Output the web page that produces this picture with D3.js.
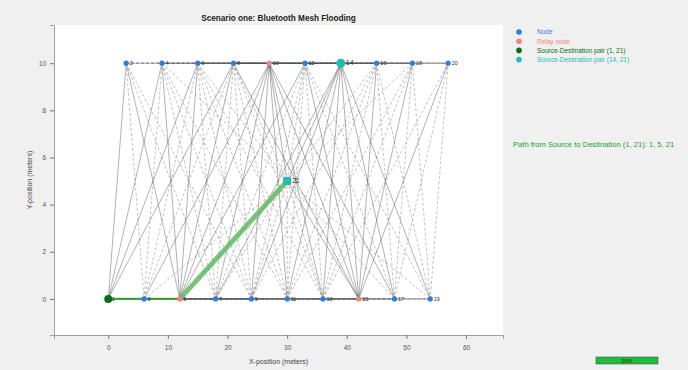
<!DOCTYPE html>
<html>
<head>
<meta charset="utf-8">
<script src="https://cdn.jsdelivr.net/npm/d3@7"></script>
<style>
  html, body { margin: 0; padding: 0; background: #f0f0f0; }
  svg { display: block; font-family: "Liberation Sans", Arial, sans-serif; }
</style>
</head>
<body>
<figure id="chart" style="margin:0"></figure>
<script>
// node ids and positions (meters)
const nodeIds = [1, 2, 3, 4, 5, 6, 7, 8, 9, 10, 11, 12, 13, 14, 15, 16, 17, 18, 19, 20, 21];
const nodeX = [0, 3, 6, 9, 12, 15, 18, 21, 24, 27, 30, 33, 36, 39, 42, 45, 48, 51, 54, 57, 30];
const nodeY = [0, 10, 0, 10, 0, 10, 0, 10, 0, 10, 0, 10, 0, 10, 0, 10, 0, 10, 0, 10, 5];

const relayNodes = [5, 10, 15];
const sourcePair1 = [1, 21];
const sourcePair2 = [14, 21];
const pathNodes = [1, 5, 21];
// edges drawn solid when they touch one of these
const floodNodes = [1, 5, 10, 14, 15];

// links: node -> neighbours with a higher id
const adjacency = [
  [1, [2, 3, 4, 5, 6, 7, 8, 9]],
  [2, [3, 4, 5, 6, 7, 8, 9, 10]],
  [3, [4, 5, 6, 7, 8, 9, 10, 11, 21]],
  [4, [5, 6, 7, 8, 9, 10, 11, 12, 21]],
  [5, [6, 7, 8, 9, 10, 11, 12, 13, 21]],
  [6, [7, 8, 9, 10, 11, 12, 13, 14, 21]],
  [7, [8, 9, 10, 11, 12, 13, 14, 15, 21]],
  [8, [9, 10, 11, 12, 13, 14, 15, 16, 21]],
  [9, [10, 11, 12, 13, 14, 15, 16, 17, 21]],
  [10, [11, 12, 13, 14, 15, 16, 17, 18, 21]],
  [11, [12, 13, 14, 15, 16, 17, 18, 19, 21]],
  [12, [13, 14, 15, 16, 17, 18, 19, 20, 21]],
  [13, [14, 15, 16, 17, 18, 19, 20, 21]],
  [14, [15, 16, 17, 18, 19, 20, 21]],
  [15, [16, 17, 18, 19, 20, 21]],
  [16, [17, 18, 19, 20, 21]],
  [17, [18, 19, 20, 21]],
  [18, [19, 20, 21]],
  [19, [20, 21]],
  [20, []]
];

const xTicks = [0, 10, 20, 30, 40, 50, 60];
const yTicks = [0, 2, 4, 6, 8, 10];
const legendLabels = ["Node", "Relay node", "Source-Destination pair (1, 21)", "Source-Destination pair (14, 21)"];
const pathText = "Path from Source to Destination (1, 21): 1,  5, 21";
const progressText = "98%";

const width = 688, height = 370;
const plot = { left: 54, right: 503, top: 25, bottom: 335 };

const colors = {
  node: "#2a7fe3",
  relay: "#ef8585",
  source: "#0a6e12",
  pair: "#1fbcb0",
  path: "#5cb85c"
};

const svg = d3.select("#chart").append("svg")
  .attr("width", width)
  .attr("height", height);

svg.append("rect").attr("width", width).attr("height", height).attr("fill", "#f0f0f0");
svg.append("rect")
  .attr("x", plot.left).attr("y", plot.top)
  .attr("width", plot.right - plot.left).attr("height", plot.bottom - plot.top)
  .attr("fill", "#ffffff");

const x = d3.scaleLinear().domain([-9.1, 66.2]).range([plot.left, plot.right]);
const y = d3.scaleLinear().domain([-1.53, 11.62]).range([plot.bottom, plot.top]);

const nodes = nodeIds.map((id, i) => ({ id, x: nodeX[i], y: nodeY[i] }));
const byId = new Map(nodes.map(n => [n.id, n]));

const links = [];
adjacency.forEach(([a, list]) => list.forEach(b => links.push({
  source: byId.get(a),
  target: byId.get(b),
  solid: floodNodes.includes(a) || floodNodes.includes(b)
})));

// axes
const xAxis = svg.append("g")
  .attr("transform", "translate(0," + plot.bottom + ")")
  .call(d3.axisBottom(x).tickValues(xTicks).tickSize(4).tickPadding(6));
const yAxis = svg.append("g")
  .attr("transform", "translate(" + plot.left + ",0)")
  .call(d3.axisLeft(y).tickValues(yTicks).tickSize(4).tickPadding(4));
[xAxis, yAxis].forEach(g => {
  g.select(".domain").attr("stroke", "#a0a0a0");
  g.selectAll(".tick line").attr("stroke", "#777");
  g.selectAll(".tick text").attr("fill", "#555").style("font-size", "6.5px")
    .style("font-family", "Liberation Sans, Arial, sans-serif");
});

svg.append("text")
  .attr("x", (plot.left + plot.right) / 2).attr("y", 364)
  .attr("text-anchor", "middle")
  .style("font-size", "7px").attr("fill", "#444")
  .text("X-position (meters)");

svg.append("text")
  .attr("transform", "translate(32," + (plot.top + plot.bottom) / 2 + ") rotate(-90)")
  .attr("text-anchor", "middle")
  .style("font-size", "7px").attr("fill", "#444")
  .text("Y-position (meters)");

svg.append("text")
  .attr("x", (plot.left + plot.right) / 2).attr("y", 21)
  .attr("text-anchor", "middle")
  .style("font-size", "8.2px").style("font-weight", "bold").attr("fill", "#222")
  .text("Scenario one: Bluetooth Mesh Flooding");

// edges
const g = svg.append("g");
g.selectAll("line.dashed")
  .data(links.filter(d => !d.solid))
  .enter().append("line")
  .attr("class", "dashed")
  .attr("x1", d => x(d.source.x)).attr("y1", d => y(d.source.y))
  .attr("x2", d => x(d.target.x)).attr("y2", d => y(d.target.y))
  .attr("stroke", "#9a9a9a")
  .attr("stroke-opacity", 0.75)
  .attr("stroke-width", 0.8)
  .attr("stroke-dasharray", "3,2");

g.selectAll("line.solid")
  .data(links.filter(d => d.solid))
  .enter().append("line")
  .attr("class", "solid")
  .attr("x1", d => x(d.source.x)).attr("y1", d => y(d.source.y))
  .attr("x2", d => x(d.target.x)).attr("y2", d => y(d.target.y))
  .attr("stroke", "#444")
  .attr("stroke-opacity", 0.55)
  .attr("stroke-width", 0.75);

// path from source to destination
const pathPts = pathNodes.map(id => byId.get(id));
g.selectAll("line.path")
  .data(d3.pairs(pathPts))
  .enter().append("line")
  .attr("class", "path")
  .attr("x1", d => x(d[0].x)).attr("y1", d => y(d[0].y))
  .attr("x2", d => x(d[1].x)).attr("y2", d => y(d[1].y))
  .attr("stroke", (d, i) => i === 0 ? "#3c9c3c" : colors.path)
  .attr("stroke-opacity", (d, i) => i === 0 ? 0.9 : 0.8)
  .attr("stroke-width", (d, i) => i === 0 ? 2.2 : 5)
  .attr("stroke-linecap", "round");

// nodes
function nodeColor(id) {
  if (id === sourcePair1[0]) return colors.source;
  if (id === sourcePair2[0] || id === sourcePair2[1]) return colors.pair;
  if (relayNodes.includes(id)) return colors.relay;
  return colors.node;
}
function nodeRadius(id) {
  if (id === sourcePair1[0]) return 4;
  if (id === sourcePair2[0]) return 4.5;
  return 2.6;
}

const regular = nodes.filter(n => n.id !== sourcePair2[1]);
g.selectAll("circle.node")
  .data(regular)
  .enter().append("circle")
  .attr("class", "node")
  .attr("cx", d => x(d.x)).attr("cy", d => y(d.y))
  .attr("r", d => nodeRadius(d.id))
  .attr("fill", d => nodeColor(d.id));

const dest = byId.get(sourcePair2[1]);
g.append("rect")
  .attr("x", x(dest.x) - 4).attr("y", y(dest.y) - 4)
  .attr("width", 8).attr("height", 8).attr("rx", 1.5)
  .attr("fill", colors.pair);

g.selectAll("text.label")
  .data(nodes)
  .enter().append("text")
  .attr("class", "label")
  .attr("x", d => x(d.x) + (d.id === 14 || d.id === 21 ? 5 : 3.5))
  .attr("y", d => y(d.y) + 2)
  .style("font-size", d => (d.id === 14 || d.id === 21) ? "7px" : "5.5px")
  .attr("fill", "#333")
  .text(d => d.id);

// legend
const legendColors = [colors.node, colors.relay, colors.source, colors.pair];
const legend = svg.append("g");
legendLabels.forEach((label, i) => {
  const ly = 32 + i * 9.2;
  legend.append("circle").attr("cx", 519).attr("cy", ly).attr("r", 2.8).attr("fill", legendColors[i]);
  legend.append("text").attr("x", 537).attr("y", ly + 2.3)
    .style("font-size", "6.5px").attr("fill", legendColors[i]).text(label);
});

svg.append("text")
  .attr("x", 513).attr("y", 147)
  .style("font-size", "7.6px").attr("fill", "#22a033")
  .text(pathText);

// progress bar
svg.append("rect")
  .attr("x", 596).attr("y", 357).attr("width", 62).attr("height", 7)
  .attr("fill", "#1fbb3a").attr("stroke", "#555").attr("stroke-width", 0.6);
svg.append("text")
  .attr("x", 627).attr("y", 362.6).attr("text-anchor", "middle")
  .style("font-size", "5.5px").attr("fill", "#0d5a17")
  .text(progressText);
</script>
</body>
</html>
